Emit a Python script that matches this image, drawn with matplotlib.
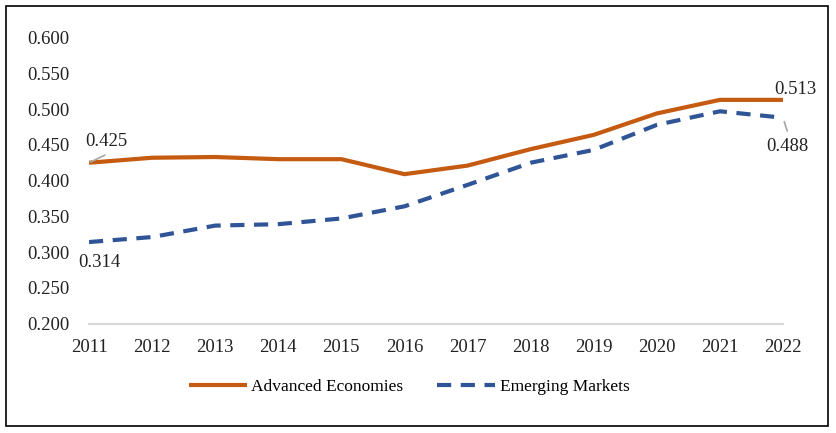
import matplotlib

matplotlib.use("Agg")
import matplotlib.pyplot as plt  # noqa: E402
from matplotlib.patches import Rectangle  # noqa: E402

# Data
years = list(range(2011, 2023))
advanced = [0.425, 0.432, 0.433, 0.430, 0.430, 0.409, 0.421, 0.444,
            0.464, 0.494, 0.513, 0.513]
emerging = [0.314, 0.321, 0.337, 0.339, 0.347, 0.364, 0.394, 0.425,
            0.443, 0.478, 0.497, 0.488]
yticks = [0.2, 0.25, 0.3, 0.35, 0.4, 0.45, 0.5, 0.55, 0.6]

ORANGE = "#C55A11"
BLUE = "#2F5597"
LEADER = "#a6a6a6"
W, H = 836, 433
FS = 13.5

plt.rcParams["font.family"] = ["Liberation Serif", "DejaVu Serif"]

fig = plt.figure(figsize=(W / 100, H / 100), dpi=100)
ax = fig.add_axes([89 / W, (H - 323.5) / H, (783 - 89) / W, (323.5 - 37.7) / H])

ax.plot(years, advanced, color=ORANGE, lw=3, solid_capstyle="butt",
        label="Advanced Economies")
ax.plot(years, emerging, color=BLUE, lw=3, dashes=(3.4, 2.3),
        dash_capstyle="butt", label="Emerging Markets")

ax.set_xlim(2011, 2022)
ax.set_ylim(0.2, 0.6)
ax.set_xticks(years)
ax.set_yticks(yticks)
ax.set_yticklabels([f"{v:.3f}" for v in yticks])
ax.tick_params(length=0, labelsize=FS, colors="#222222")
ax.tick_params(axis="y", pad=14)
ax.tick_params(axis="x", pad=11)
for side in ("top", "right", "left"):
    ax.spines[side].set_visible(False)
ax.spines["bottom"].set_color("#d9d9d9")
ax.spines["bottom"].set_linewidth(1.5)
ax.patch.set_visible(False)

# endpoint labels
ax.text(years[0] + 0.27, 0.455, f"{advanced[0]:.3f}", ha="center",
        va="center", fontsize=FS, color="#222222")
ax.text(years[0] + 0.16, 0.285, f"{emerging[0]:.3f}", ha="center",
        va="center", fontsize=FS, color="#222222")
ax.text(years[-1] + 0.2, 0.528, f"{advanced[-1]:.3f}", ha="center",
        va="center", fontsize=FS, color="#222222")
ax.text(years[-1] + 0.07, 0.448, f"{emerging[-1]:.3f}", ha="center",
        va="center", fontsize=FS, color="#222222")

# leader lines from the labels to the first / last points
ax.annotate("", xy=(years[0], advanced[0]), xytext=(11.5, 5.5),
            textcoords="offset points",
            arrowprops=dict(arrowstyle="-", color=LEADER, lw=1.2,
                            shrinkA=0, shrinkB=1))
ax.annotate("", xy=(years[-1], emerging[-1]), xytext=(3, -9.5),
            textcoords="offset points",
            arrowprops=dict(arrowstyle="-", color=LEADER, lw=1.2,
                            shrinkA=0, shrinkB=3))

fig.legend(loc="center", bbox_to_anchor=(0.5 - 9 / W, (H - 387) / H), ncol=2,
           frameon=False, fontsize=12.5, handlelength=3.35,
           handletextpad=0.25, columnspacing=1.95)

fig.patches.append(Rectangle((6 / W, (H - 426) / H), (828 - 6) / W,
                             (426 - 6) / H, transform=fig.transFigure,
                             fill=False, edgecolor="black", lw=1.2))

fig.savefig("out.png", dpi=100)
